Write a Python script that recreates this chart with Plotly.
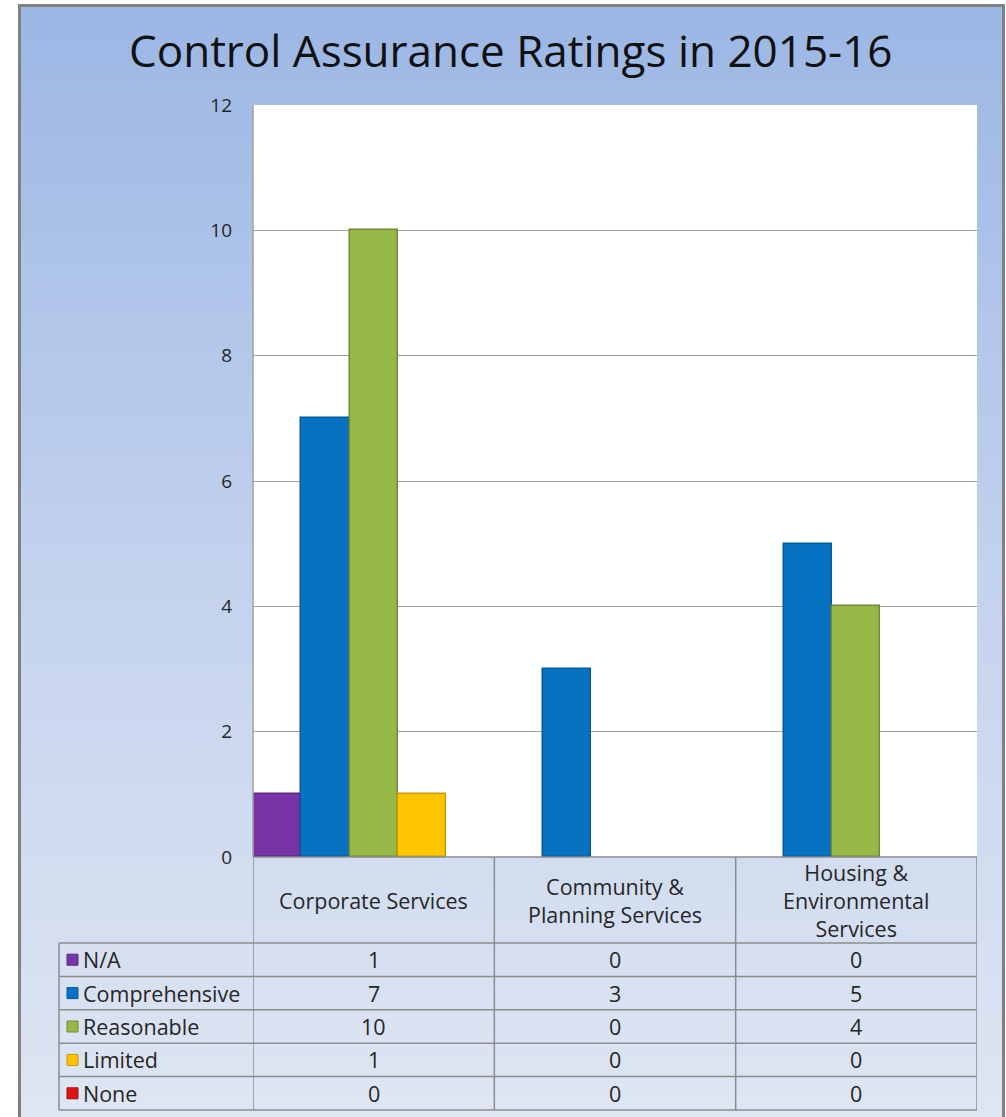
import base64
import struct
import zlib
import plotly.graph_objects as go

# ---------------- data ----------------
categories = ["Corporate Services", "Community & Planning Services", "Housing & Environmental Services"]
category_labels = ["Corporate Services", "Community &<br>Planning Services", "Housing &<br>Environmental<br>Services"]
series_names = ["N/A", "Comprehensive", "Reasonable", "Limited", "None"]
na_values = [1, 0, 0]
comprehensive_values = [7, 3, 5]
reasonable_values = [10, 0, 4]
limited_values = [1, 0, 0]
none_values = [0, 0, 0]
series_values = [na_values, comprehensive_values, reasonable_values, limited_values, none_values]
series_colors = ["#7634a6", "#0872c2", "#95b847", "#ffc400", "#e01313"]
series_edges = ["#5a2680", "#055a99", "#6f8a34", "#c99a00", "#a00d0d"]
y_ticks = [0, 2, 4, 6, 8, 10, 12]
title_text = "Control Assurance Ratings in 2015-16"

# ---------------- geometry (pixels) ----------------
W, H = 1006, 1117
L, R, T, B = 253, 977, 105, 857


def fx(px):
    return (px - L) / (R - L)


def fy(py):
    return (B - py) / (B - T)


def gradient_png(stops, h=256):
    rows = b""
    for i in range(h):
        t = i / (h - 1)
        for j in range(len(stops) - 1):
            t0, c0 = stops[j]
            t1, c1 = stops[j + 1]
            if t0 <= t <= t1:
                u = (t - t0) / (t1 - t0) if t1 > t0 else 0
                c = [round(c0[k] + (c1[k] - c0[k]) * u) for k in range(3)]
                break
        rows += b"\x00" + bytes(c)

    def chunk(tag, data):
        return struct.pack(">I", len(data)) + tag + data + struct.pack(">I", zlib.crc32(tag + data) & 0xffffffff)

    png = b"\x89PNG\r\n\x1a\n"
    png += chunk(b"IHDR", struct.pack(">IIBBBBB", 1, h, 8, 2, 0, 0, 0))
    png += chunk(b"IDAT", zlib.compress(rows))
    png += chunk(b"IEND", b"")
    return "data:image/png;base64," + base64.b64encode(png).decode()


bg = gradient_png([(0.0, (155, 183, 228)), (0.5, (195, 210, 237)), (1.0, (223, 230, 243))])

FONT = "Open Sans"
TXT = "#262626"
GRID = "#a0a0a0"
TS = 21.5

fig = go.Figure()
for name, vals, col, edge in zip(series_names, series_values, series_colors, series_edges):
    fig.add_trace(go.Bar(
        x=categories, y=vals, name=name,
        marker=dict(color=col, line=dict(color=edge, width=[1.5 if v > 0 else 0 for v in vals])),
        showlegend=False,
    ))

shapes = []
annotations = []

# frame
shapes.append(dict(type="rect", xref="paper", yref="paper",
                   x0=fx(19.5), x1=fx(1003.5), y0=fy(1125), y1=fy(5.5),
                   line=dict(color="#808080", width=3), layer="below"))
shapes.append(dict(type="rect", xref="paper", yref="paper",
                   x0=0, x1=1, y0=0, y1=1, fillcolor="white", line=dict(width=0), layer="below"))

# table geometry
header_bottom = 943
row_h = (1110 - 943) / 5
row_lines = [header_bottom + i * row_h for i in range(6)]
line_style = dict(color="#8c8c8c", width=1.5)

shapes.append(dict(type="line", xref="paper", yref="paper", x0=0, x1=1, y0=fy(B), y1=fy(B), line=line_style))
for yy in row_lines:
    shapes.append(dict(type="line", xref="paper", yref="paper", x0=fx(59), x1=1, y0=fy(yy), y1=fy(yy), line=line_style))
shapes.append(dict(type="line", xref="paper", yref="paper", x0=fx(59), x1=fx(59),
                   y0=fy(row_lines[0]), y1=fy(row_lines[-1]), line=line_style))
for k in range(len(categories) + 1):
    shapes.append(dict(type="line", xref="x", yref="paper", x0=k - 0.5, x1=k - 0.5,
                       y0=fy(B), y1=fy(row_lines[-1]), line=line_style))
shapes.append(dict(type="line", xref="paper", yref="paper", x0=0, x1=0, y0=fy(B), y1=1, line=dict(color=GRID, width=1.5)))

for k, lab in enumerate(category_labels):
    annotations.append(dict(x=k, y=fy((B + header_bottom) / 2), xref="x", yref="paper",
                            text=lab, showarrow=False, font=dict(family=FONT, size=TS, color=TXT),
                            xanchor="center", yanchor="middle"))

for i, (name, vals, col, edge) in enumerate(zip(series_names, series_values, series_colors, series_edges)):
    yc = row_lines[i] + row_h / 2
    shapes.append(dict(type="rect", xref="paper", yref="paper",
                       x0=fx(67), x1=fx(78), y0=fy(yc - 5.5), y1=fy(yc + 5.5),
                       fillcolor=col, line=dict(color=edge, width=1)))
    annotations.append(dict(x=fx(81), y=fy(yc), xref="paper", yref="paper", text=name,
                            showarrow=False, xanchor="left", yanchor="middle",
                            font=dict(family=FONT, size=TS, color=TXT)))
    for k, v in enumerate(vals):
        annotations.append(dict(x=k, y=fy(yc), xref="x", yref="paper", text=str(v),
                                showarrow=False, xanchor="center", yanchor="middle",
                                font=dict(family=FONT, size=TS, color=TXT)))

annotations.append(dict(x=fx(511), y=fy(50), xref="paper", yref="paper", text=title_text,
                        showarrow=False, xanchor="center", yanchor="middle",
                        font=dict(family=FONT, size=44, color="#111111")))

fig.update_layout(
    width=W, height=H,
    margin=dict(l=L, r=W - R, t=T, b=H - B, pad=0),
    paper_bgcolor="white", plot_bgcolor="white",
    barmode="group", bargap=0, bargroupgap=0,
    shapes=shapes, annotations=annotations,
    images=[dict(source=bg, xref="paper", yref="paper", x=fx(19.5), y=fy(5.5),
                 sizex=fx(1003.5) - fx(19.5), sizey=fy(5.5) - fy(1125),
                 xanchor="left", yanchor="top", sizing="stretch", layer="below")],
    xaxis=dict(showticklabels=False, showgrid=False, zeroline=False, showline=False,
               range=[-0.5, 2.5], ticks=""),
    yaxis=dict(range=[0, 12], tickvals=y_ticks, showgrid=True, gridcolor=GRID, gridwidth=1,
               zeroline=False, showline=False, ticks="", ticklabelstandoff=20,
               tickfont=dict(family=FONT, size=19, color=TXT)),
)

fig.write_html("out.html")
